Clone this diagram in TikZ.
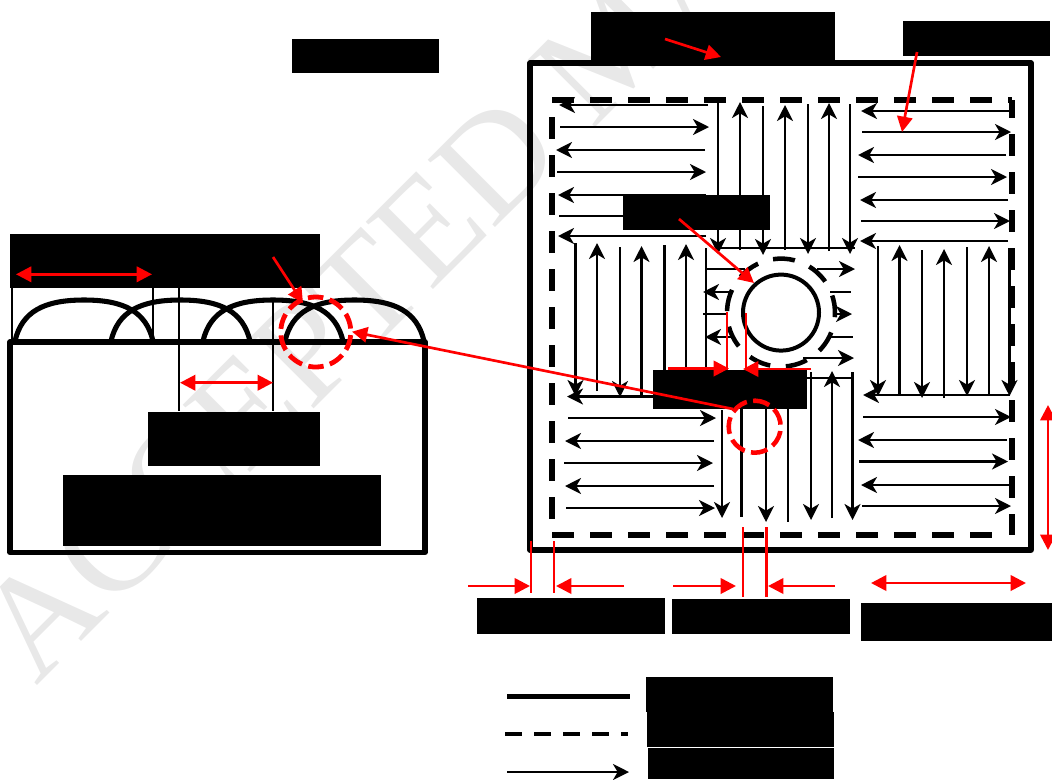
\documentclass[tikz,border=0pt]{standalone}
\usepackage{fontspec}
\setmainfont{Liberation Serif}
\usetikzlibrary{arrows.meta}
\definecolor{wm}{RGB}{232,232,232}
\tikzset{
  redact/.style={fill=black,draw=none,inner sep=0pt,outer sep=0pt,anchor=north west},
  thin line/.style={black,line width=1.5pt},
  frame line/.style={black,line width=3.8pt,line join=round,line cap=round},
  dash line/.style={black,line width=4pt,dash pattern=on 16.5pt off 12pt},
  flow/.style={black,line width=1.9pt,-{Stealth[length=12pt,width=12pt,inset=3.5pt]}},
  plain/.style={black,line width=1.9pt},
  redline/.style={red,line width=1.6pt},
  redtip/.style={red,line width=2pt,-{Triangle[length=11.5pt,width=11.5pt]}},
  redboth/.style={red,line width=2pt,{Triangle[length=11.5pt,width=11.5pt]}-{Triangle[length=11.5pt,width=11.5pt]}},
  wmark/.style={wm,font=\fontsize{109}{109}\selectfont,rotate=45,anchor=base west,inner sep=0pt},
}
\newcommand{\blk}[5]{\node[redact,minimum width={(#4-#2)*0.75pt},minimum height={(#5-#3)*0.75pt}] (#1) at (#2,#3) {};}
\begin{document}
\begin{tikzpicture}[x=0.75pt,y=-0.75pt]
\useasboundingbox (0,0) rectangle (1052,779);
\clip (0,0) rectangle (1052,779);
% watermark
\node[wmark] (watermark) at (36,687) {ACCEPTED MA};

% ===== left figure =====
\foreach \x/\a/\b in {12/288/341,153/288/341,178.5/288/411,272.5/300/411}
  \draw[thin line] (\x,\a) -- (\x,\b);
\draw[frame line] (10,342) rectangle (425,552.5);
\foreach \l/\r in {15/153,111/250,203/343,285/424}{
  \pgfmathsetmacro\m{(\l+\r)/2}
  \pgfmathsetmacro\d{(\r-\l)/2}
  \draw[frame line,line cap=butt] (\l,341) .. controls (\l+0.1*\d,311.5) and (\m-0.58*\d,300) .. (\m,300)
     .. controls (\m+0.58*\d,300) and (\r-0.1*\d,311.5) .. (\r,341);
}
\blk{leftA}{10}{234}{320}{288}
\blk{leftB}{148}{412}{320}{466}
\blk{leftC}{63}{475}{381}{546}
\blk{leftT}{292}{39}{439}{73}

% ===== right figure: black flows =====
\draw[frame line] (530,63) rectangle (1031,550);
% dashed boundary
\draw[dash line] (552,100) -- (1012,100);
\draw[dash line,dash phase=3pt] (1012,100) -- (1012,535);
\draw[dash line] (552,535) -- (1007,535);
\draw[dash line] (552,117) -- (552,520);
% horizontal arrows
\foreach \a/\y/\b in {
  708/105/559, 560/127/709, 705/150/556, 557/172/706, 706/195/558, 559/216/710, 706/236/558,
  1011/111/861, 862/132/1011, 1006/155/858, 858/177/1007, 1008/200/860, 861/221/1010, 1008/241/860,
  1010/395/863, 653/396.5/567,
  568/418/716, 714/441/565, 564/463/713, 714/486/565, 566/508/715,
  863/417/1011, 1007/440/858, 859/461.5/1008, 1012/485/861, 862/506/1011,
  817/269/855, 833/314/852, 803/358/854, 732/292/703, 735/337/705}
  \draw[flow] (\a,\y) -- (\b,\y);
% vertical arrows
\foreach \x/\a/\b in {
  718/100/254, 740/250/102, 763/106/255, 785/250/105, 808/104/254, 829/251/103, 850/104/254,
  878/246/396, 899.5/395/245, 922/250/398, 944/398/249, 967/247/396, 989/395/246, 1009.5/248/396,
  575.5/243/396, 597/391/243, 620/247/397, 641.5/395/246, 664.5/245/400, 686/390/244,
  722/410/518, 766/372/522, 811/372/520, 832/518/371, 852.5/372/520}
  \draw[flow] (\x,\a) -- (\x,\b);
% plain lines
\foreach \x/\a/\b in {706/248/372, 741.5/372/517, 788/372/522}
  \draw[plain] (\x,\a) -- (\x,\b);
\foreach \a/\y/\b in {718/248/855, 706/269/745, 830/292/851, 703/314/727, 827/337/853, 807/378/853}
  \draw[plain] (\a,\y) -- (\b,\y);

% central column
\node[circle,draw=black,line width=3pt,minimum size=57pt,inner sep=0pt,fill=white] (hub) at (781,312.6) {};
\draw[black,line width=3.4pt,dash pattern=on 16.5pt off 11.77pt] ([shift={(261.5:54)}]hub.center) arc[start angle=261.5,end angle=621.5,radius=54];

% black label boxes, right figure
\blk{topA}{591}{12}{835}{62}
\blk{topB}{903}{21}{1050}{56}
\blk{midA}{623}{195}{770}{230}
\blk{midB}{653}{370}{807}{409}
\blk{botA}{477}{598}{665}{634}
\blk{botB}{672}{599}{850}{634}
\blk{botC}{861}{603}{1052}{641}
\blk{legA}{646}{677}{833}{712}
\blk{legB}{647}{712}{834}{747}
\blk{legC}{648}{748.3}{834}{779}

% legend
\coordinate (l1a) at (507,696.3); \coordinate (l1b) at (630,696.3);
\coordinate (l2a) at (505,734); \coordinate (l2b) at (628,734);
\coordinate (l3a) at (507,772); \coordinate (l3b) at (629,772);
\draw[black,line width=4pt] (l1a) -- (l1b);
\draw[black,line width=3.2pt,dash pattern=on 12.75pt off 9pt] (l2a) -- (l2b);
\draw[flow] (l3a) -- (l3b);

% ===== red annotation =====
\coordinate (pA) at (665,39);   \coordinate (qA) at (721,57);
\coordinate (pB) at (917,52);   \coordinate (qB) at (902,132);
\coordinate (pC) at (679,219);  \coordinate (qC) at (754,283);
\draw[redtip] (pA) -- (qA);
\draw[redtip] (pB) -- (qB);
\draw[redtip] (pC) -- (qC);
% dimension ticks at bottom
\foreach \x/\a/\b in {531/541/593,554/541/593,743/527/597,766.5/527/597,727/312/370,746/313/370}
  \draw[redline] (\x,\a) -- (\x,\b);
\foreach \a/\y/\b in {468/586/530, 624/586/556, 673/586/736, 835/586/768, 668/368.5/729, 811/369/743}
  \draw[redtip] (\a,\y) -- (\b,\y);
\coordinate (dA) at (871,583);  \coordinate (dB) at (1026,583);
\coordinate (dC) at (1048,405); \coordinate (dD) at (1048,550);
\draw[redboth] (dA) -- (dB);
\draw[redboth] (dC) -- (dD);
% left figure dimensions
\coordinate (dE) at (16,274.3); \coordinate (dF) at (152,274.3);
\coordinate (dG) at (180,382.7);\coordinate (dH) at (273,382.7);
\draw[redboth] (dE) -- (dF);
\draw[redboth] (dG) -- (dH);
% red circles
\node[circle,draw=none,minimum size=52pt,inner sep=0pt] (zoomR) at (754.7,426.7) {};
\draw[red,line width=3.4pt,dash pattern=on 12.7pt off 4.8pt] ([shift={(215:26)}]zoomR.center) arc[start angle=215,end angle=575,radius=26];
\node[circle,draw=none,minimum size=52pt,inner sep=0pt] (zoomL) at (315.8,332) {};
\draw[red,line width=3.6pt,dash pattern=on 11.6pt off 4.9pt] ([shift={(257:35)}]zoomL.center) arc[start angle=257,end angle=617,radius=35];
% leaders
\coordinate (pD) at (273,257); \coordinate (qD) at (303,303);
\draw[redtip] (pD) -- (qD);
\coordinate (pE) at (733,409);  \coordinate (qE) at (352,331.7);
\draw[redtip] (pE) -- (qE);
\end{tikzpicture}
\end{document}
